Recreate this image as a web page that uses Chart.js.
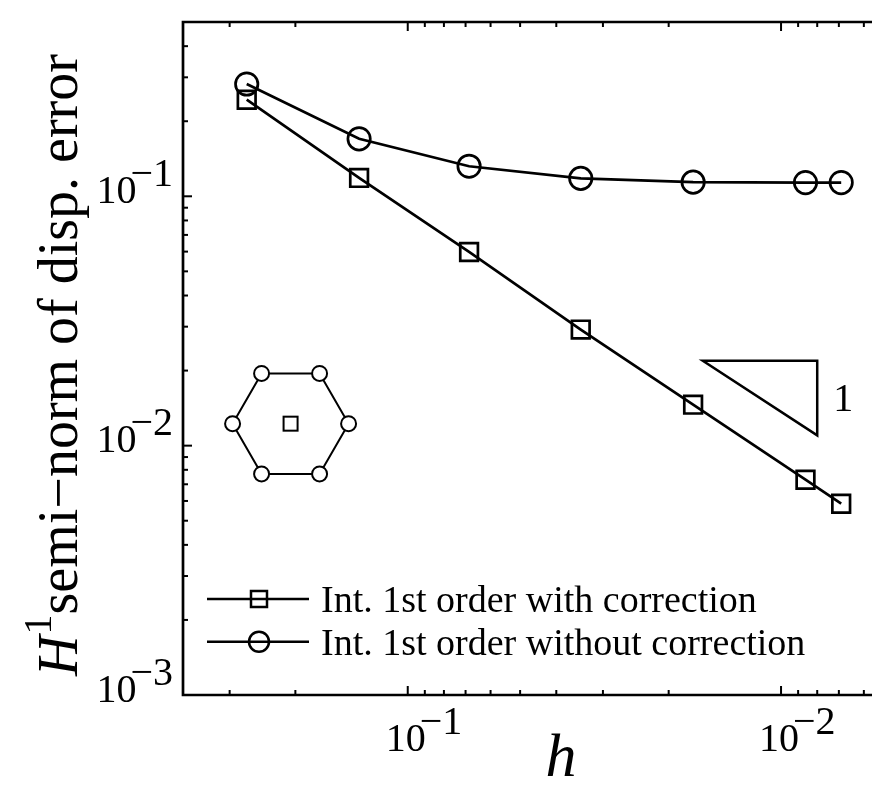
<!DOCTYPE html>
<html lang="en">
<head>
<meta charset="UTF-8">
<title>H1 semi-norm of displacement error</title>
<script src="https://cdn.jsdelivr.net/npm/chart.js@4.4.1/dist/chart.umd.min.js"></script>
<style>
  html, body { margin: 0; padding: 0; background: #fff; overflow: hidden; }
  canvas { display: block; }
</style>
</head>
<body>
<canvas id="errChart" width="872" height="800"></canvas>
<script>
// mesh size h and the error of both interpolations
const hValues = [0.27, 0.135, 0.0685, 0.0344, 0.0172, 0.0086, 0.0069];
const errWithCorrection = [0.244, 0.1185, 0.0598, 0.0292, 0.0146, 0.0073, 0.00585];
const errWithoutCorrection = [0.282, 0.170, 0.132, 0.118, 0.114, 0.1135, 0.1135];
const seriesLabels = ['Int. 1st order with correction', 'Int. 1st order without correction'];
const seriesMarkers = ['rect', 'circle'];

// axis ranges and labelled decades (x runs from coarse to fine)
const xRange = [0.005706, 0.4];
const yRange = [0.001, 0.5];
const xDecades = [-1, -2];
const yDecades = [-1, -2, -3];

// slope triangle, in data units
const slopeH = [0.0162, 0.0080];
const slopeErr = [0.0219, 0.0110];
const slopeLabel = '1';

// centre of the little stencil sketch, in data units
const stencilCentre = { h: 0.206, err: 0.01225 };

const FONT = '"Liberation Serif", "Times New Roman", serif';

function logTicks(min, max) {
  const out = [];
  for (let e = Math.floor(Math.log10(min)); e <= Math.ceil(Math.log10(max)); e++) {
    for (let m = 1; m < 10; m++) {
      const v = m * Math.pow(10, e);
      if (v >= min * 0.999 && v <= max * 1.001) out.push({ v: v, major: m === 1 });
    }
  }
  return out;
}

// "10" with a raised exponent, same size as the base like the original
function drawPower(ctx, x, y, exp, alignRight) {
  ctx.font = '40px ' + FONT;
  ctx.textBaseline = 'alphabetic';
  ctx.textAlign = 'left';
  const base = '10';
  const sup = '\u2212' + Math.abs(exp);
  const wBase = ctx.measureText(base).width;
  const wSup = ctx.measureText(sup).width;
  const total = wBase - 6 + wSup;
  const x0 = alignRight ? x - total : x;
  ctx.fillText(base, x0, y);
  ctx.fillText(sup, x0 + wBase - 6, y - 17);
}

function drawMarker(ctx, style, x, y, size) {
  ctx.beginPath();
  if (style === 'rect') {
    ctx.rect(x - size / 2, y - size / 2, size, size);
  } else {
    ctx.arc(x, y, size / 2, 0, Math.PI * 2);
  }
  ctx.stroke();
}

const decorPlugin = {
  id: 'decor',
  afterDraw(chart) {
    const ctx = chart.ctx;
    const xs = chart.scales.x, ys = chart.scales.y;
    const area = chart.chartArea;
    ctx.save();
    ctx.strokeStyle = '#000';
    ctx.fillStyle = '#000';

    // frame: left, top and bottom (right side falls outside the picture)
    ctx.lineWidth = 2.7;
    ctx.beginPath();
    ctx.moveTo(area.right + 2, area.top);
    ctx.lineTo(area.left, area.top);
    ctx.lineTo(area.left, area.bottom);
    ctx.lineTo(area.right + 2, area.bottom);
    ctx.stroke();

    // inward ticks
    ctx.lineWidth = 2;
    logTicks(xRange[0], xRange[1]).forEach(t => {
      const px = xs.getPixelForValue(t.v);
      const len = t.major ? 9 : 5;
      ctx.beginPath();
      ctx.moveTo(px, area.bottom); ctx.lineTo(px, area.bottom - len);
      ctx.moveTo(px, area.top); ctx.lineTo(px, area.top + len);
      ctx.stroke();
    });
    logTicks(yRange[0], yRange[1]).forEach(t => {
      const py = ys.getPixelForValue(t.v);
      const len = t.major ? 9 : 5;
      ctx.beginPath();
      ctx.moveTo(area.left, py); ctx.lineTo(area.left + len, py);
      ctx.stroke();
    });

    // tick labels
    xDecades.forEach(e => {
      const px = xs.getPixelForValue(Math.pow(10, e));
      drawPower(ctx, px - 22, area.bottom + 56, e, false);
    });
    yDecades.forEach(e => {
      const py = ys.getPixelForValue(Math.pow(10, e));
      drawPower(ctx, area.left - 10, py + 6.5, e, true);
    });

    // axis titles
    ctx.font = 'italic 62px ' + FONT;
    ctx.textAlign = 'center';
    ctx.fillText('h', 561, 776);

    ctx.save();
    ctx.translate(77, 365.5);
    ctx.rotate(-Math.PI / 2);
    ctx.textAlign = 'left';
    const partH = 'H', partSup = '1', partRest = 'semi\u2212norm of disp. error';
    ctx.font = 'italic 56px ' + FONT;
    const wH = ctx.measureText(partH).width;
    ctx.font = '40px ' + FONT;
    const wS = ctx.measureText(partSup).width;
    ctx.font = '56px ' + FONT;
    const wR = ctx.measureText(partRest).width;
    let lx = -(wH + wS + wR) / 2;
    ctx.font = 'italic 56px ' + FONT;
    ctx.fillText(partH, lx, 0);
    lx += wH + 1;
    ctx.font = '40px ' + FONT;
    ctx.fillText(partSup, lx, -26);
    lx += wS;
    ctx.font = '56px ' + FONT;
    ctx.fillText(partRest, lx, 0);
    ctx.restore();

    // slope triangle
    const tx0 = xs.getPixelForValue(slopeH[0]), tx1 = xs.getPixelForValue(slopeH[1]);
    const ty0 = ys.getPixelForValue(slopeErr[0]), ty1 = ys.getPixelForValue(slopeErr[1]);
    ctx.lineWidth = 2.5;
    ctx.beginPath();
    ctx.moveTo(tx0, ty0); ctx.lineTo(tx1, ty0); ctx.lineTo(tx1, ty1); ctx.closePath();
    ctx.stroke();
    ctx.font = '40px ' + FONT;
    ctx.textAlign = 'left';
    ctx.fillText(slopeLabel, tx1 + 16, (ty0 + ty1) / 2 + 13);

    // stencil sketch: hexagon of nodes around one point
    const cx = xs.getPixelForValue(stencilCentre.h), cy = ys.getPixelForValue(stencilCentre.err);
    const R = 58;
    const pts = [];
    for (let k = 0; k < 6; k++) {
      const a = k * Math.PI / 3;
      pts.push([cx + R * Math.cos(a), cy + R * Math.sin(a)]);
    }
    ctx.lineWidth = 2;
    ctx.beginPath();
    pts.forEach((p, k) => k ? ctx.lineTo(p[0], p[1]) : ctx.moveTo(p[0], p[1]));
    ctx.closePath();
    ctx.stroke();
    ctx.fillStyle = '#fff';
    pts.forEach(p => {
      ctx.beginPath();
      ctx.arc(p[0], p[1], 7.5, 0, Math.PI * 2);
      ctx.fill();
      ctx.stroke();
    });
    ctx.strokeRect(cx - 7, cy - 7, 14, 14);
    ctx.fillStyle = '#000';

    // legend
    chart.data.datasets.forEach((ds, i) => {
      const ly = 599 + i * 42.7;
      ctx.lineWidth = 2.5;
      ctx.beginPath();
      ctx.moveTo(207, ly); ctx.lineTo(309, ly);
      ctx.stroke();
      drawMarker(ctx, ds.pointStyle, 259, ly, ds.pointStyle === 'rect' ? 16 : 20);
      ctx.font = '38px ' + FONT;
      ctx.textAlign = 'left';
      ctx.fillText(ds.label, 321, ly + 13);
    });

    ctx.restore();
  }
};

function series(errs, i) {
  return {
    label: seriesLabels[i],
    data: hValues.map((h, k) => ({ x: h, y: errs[k] })),
    borderColor: '#000',
    borderWidth: 2.7,
    pointStyle: seriesMarkers[i],
    pointRadius: seriesMarkers[i] === 'rect' ? 12.5 : 11.2,
    pointBorderWidth: 2.7,
    pointBorderColor: '#000',
    pointBackgroundColor: 'rgba(0,0,0,0)',
    tension: 0,
    clip: false
  };
}

new Chart(document.getElementById('errChart'), {
  type: 'line',
  data: {
    datasets: [series(errWithCorrection, 0), series(errWithoutCorrection, 1)]
  },
  options: {
    responsive: false,
    animation: false,
    devicePixelRatio: 1,
    layout: { autoPadding: false, padding: { left: 183, top: 22, right: 0, bottom: 105 } },
    plugins: {
      legend: { display: false },
      title: { display: false },
      tooltip: { enabled: false }
    },
    scales: {
      x: { type: 'logarithmic', reverse: true, min: xRange[0], max: xRange[1], display: false },
      y: { type: 'logarithmic', min: yRange[0], max: yRange[1], display: false }
    }
  },
  plugins: [decorPlugin]
});
</script>
</body>
</html>
